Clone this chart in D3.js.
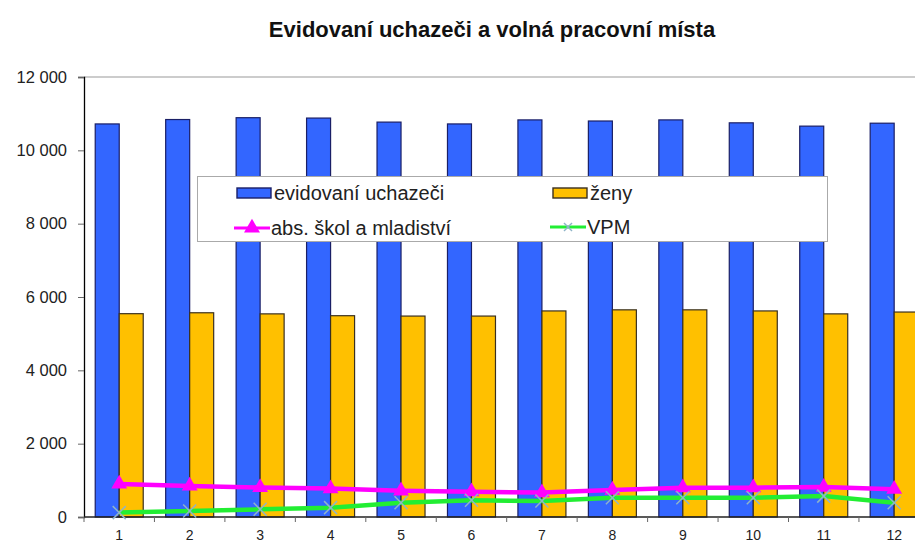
<!DOCTYPE html>
<html>
  <head>
    <meta charset="utf-8">
    <title>Evidovaní uchazeči</title>
    <script src="https://cdnjs.cloudflare.com/ajax/libs/d3/7.8.5/d3.min.js"></script>
    <style>
      body { margin: 0; background: #fff; }
      text { font-family: "Liberation Sans", Arial, sans-serif; }
    </style>
  </head>
  <body>
    <script>
      // months
      var categories = ["1","2","3","4","5","6","7","8","9","10","11","12"];
      // evidovaní uchazeči
      var uchazeci = [10720, 10840, 10890, 10880, 10770, 10720, 10830, 10800, 10830, 10750, 10660, 10740];
      // ženy
      var zeny = [5545, 5570, 5540, 5490, 5480, 5480, 5620, 5650, 5650, 5620, 5540, 5590];
      // abs. škol a mladiství
      var absolventi = [900, 845, 805, 775, 715, 690, 665, 735, 800, 800, 815, 760];
      // VPM
      var vpm = [120, 165, 210, 255, 390, 455, 435, 525, 525, 525, 570, 390];
      var yTicks = [0, 2000, 4000, 6000, 8000, 10000, 12000];

      var W = 915, H = 545;
      var plotLeft = 84, plotTop = 77, plotBottom = 517;
      var step = 70.45;

      var svg = d3.select("body").append("svg")
        .attr("width", W)
        .attr("height", H);

      var x = d3.scaleBand()
        .domain(categories)
        .range([plotLeft, plotLeft + step * categories.length])
        .padding(0);

      var y = d3.scaleLinear()
        .domain([0, 12000])
        .range([plotBottom, plotTop]);

      var fmt = function (d){ return d3.format(",")(d).replace(/,/g, " "); };
      var cx = function (i){ return x(categories[i]) + x.bandwidth() / 2; };
      var barW = 24;

      // title
      svg.append("text")
        .attr("x", 492).attr("y", 37)
        .attr("text-anchor", "middle")
        .attr("font-size", 22).attr("font-weight", "bold")
        .attr("fill", "#111")
        .text("Evidovaní uchazeči a volná pracovní místa");

      // top border of plot area
      svg.append("line")
        .attr("x1", plotLeft).attr("x2", W)
        .attr("y1", plotTop).attr("y2", plotTop)
        .attr("stroke", "#999").attr("stroke-width", 1.2);

      // bars
      svg.selectAll("rect.u").data(uchazeci).enter().append("rect")
        .attr("class", "u")
        .attr("x", function (d, i){ return cx(i) - barW; })
        .attr("y", function (d){ return y(d); })
        .attr("width", barW)
        .attr("height", function (d){ return y(0) - y(d); })
        .attr("fill", "#3366ff")
        .attr("stroke", "#1a1f66").attr("stroke-width", 1.2);

      svg.selectAll("rect.z").data(zeny).enter().append("rect")
        .attr("class", "z")
        .attr("x", function (d, i){ return cx(i); })
        .attr("y", function (d){ return y(d); })
        .attr("width", barW)
        .attr("height", function (d){ return y(0) - y(d); })
        .attr("fill", "#ffc000")
        .attr("stroke", "#3a3020").attr("stroke-width", 1.2);

      // y axis
      var yAxis = d3.axisLeft(y).tickValues(yTicks).tickSize(6).tickFormat(fmt);
      var gy = svg.append("g").attr("transform", "translate(" + plotLeft + ",0)").call(yAxis);
      gy.select(".domain").attr("stroke", "#000").attr("stroke-width", 1.3);
      gy.selectAll(".tick line").attr("stroke", "#666");
      gy.selectAll(".tick text")
        .attr("x", -17)
        .attr("font-size", 16.5)
        .attr("font-family", "Liberation Sans, Arial, sans-serif")
        .attr("fill", "#222");

      // x axis
      svg.append("line")
        .attr("x1", plotLeft).attr("x2", W)
        .attr("y1", plotBottom).attr("y2", plotBottom)
        .attr("stroke", "#222").attr("stroke-width", 1.3);
      svg.selectAll("line.xt").data(d3.range(categories.length + 1)).enter().append("line")
        .attr("class", "xt")
        .attr("x1", function (i){ return plotLeft + i * x.step(); })
        .attr("x2", function (i){ return plotLeft + i * x.step(); })
        .attr("y1", plotBottom).attr("y2", plotBottom + 5)
        .attr("stroke", "#666");
      svg.selectAll("text.xl").data(categories).enter().append("text")
        .attr("class", "xl")
        .attr("x", function (d, i){ return cx(i); })
        .attr("y", 540)
        .attr("text-anchor", "middle")
        .attr("font-size", 14)
        .attr("fill", "#222")
        .text(function (d){ return d; });

      // lines
      var line = d3.line()
        .x(function (d, i){ return cx(i); })
        .y(function (d){ return y(d); });

      svg.append("path").datum(vpm)
        .attr("d", line)
        .attr("fill", "none")
        .attr("stroke", "#22ee33").attr("stroke-width", 4.5);

      svg.append("path").datum(absolventi)
        .attr("d", line)
        .attr("fill", "none")
        .attr("stroke", "#ff00ff").attr("stroke-width", 4.5);

      var tri = d3.symbol().type(d3.symbolTriangle).size(110);
      var cross = function (g, s){
        g.append("line").attr("x1", -s).attr("y1", -s).attr("x2", s).attr("y2", s);
        g.append("line").attr("x1", -s).attr("y1", s).attr("x2", s).attr("y2", -s);
        g.attr("stroke", "#8fb4c8").attr("stroke-width", 1.5);
      };

      svg.selectAll("path.tri").data(absolventi).enter().append("path")
        .attr("class", "tri")
        .attr("d", tri)
        .attr("transform", function (d, i){ return "translate(" + cx(i) + "," + y(d) + ")"; })
        .attr("fill", "#ff00ff");

      svg.selectAll("g.cr").data(vpm).enter().append("g")
        .attr("class", "cr")
        .attr("transform", function (d, i){ return "translate(" + cx(i) + "," + y(d) + ")"; })
        .each(function (){ cross(d3.select(this), 6.5); });

      // legend
      var lg = svg.append("g");
      lg.append("rect")
        .attr("x", 197.5).attr("y", 176.5)
        .attr("width", 630).attr("height", 65)
        .attr("fill", "#fff")
        .attr("stroke", "#aaa").attr("stroke-width", 1);

      var items = [
        { name: "evidovaní uchazeči", kind: "bar", fill: "#3366ff", stroke: "#1a1f66", x: 237, y: 193 },
        { name: "ženy", kind: "bar", fill: "#ffc000", stroke: "#3a3020", x: 553, y: 193 },
        { name: "abs. škol a mladiství", kind: "tri", color: "#ff00ff", x: 234, y: 228 },
        { name: "VPM", kind: "cross", color: "#22ee33", x: 550, y: 227 }
      ];
      items.forEach(function (it){
        if (it.kind === "bar") {
          lg.append("rect")
            .attr("x", it.x).attr("y", it.y - 5)
            .attr("width", 34).attr("height", 10)
            .attr("fill", it.fill).attr("stroke", it.stroke).attr("stroke-width", 1.4);
        } else {
          lg.append("line")
            .attr("x1", it.x).attr("x2", it.x + 36)
            .attr("y1", it.y).attr("y2", it.y)
            .attr("stroke", it.color).attr("stroke-width", 3);
          if (it.kind === "tri") {
            lg.append("path").attr("d", tri)
              .attr("transform", "translate(" + (it.x + 18) + "," + it.y + ")")
              .attr("fill", it.color);
          } else {
            var g = lg.append("g").attr("transform", "translate(" + (it.x + 18) + "," + it.y + ")");
            cross(g, 4);
          }
        }
        lg.append("text")
          .attr("x", it.x + 37).attr("y", it.y + 7)
          .attr("font-size", 20)
          .attr("fill", "#222")
          .text(it.name);
      });
    </script>
  </body>
</html>
